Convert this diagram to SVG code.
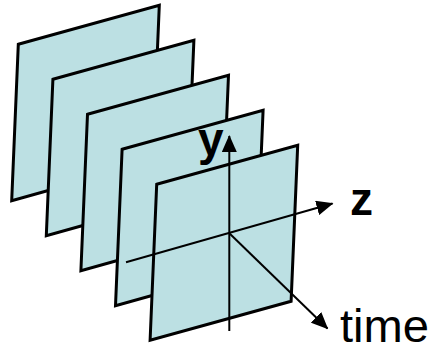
<svg xmlns="http://www.w3.org/2000/svg" width="432" height="351" viewBox="0 0 432 351">
<style>
.plane{fill:#BCE0E3;stroke:#000;stroke-width:3;stroke-linejoin:miter}
.axis{fill:none;stroke:#000;stroke-width:2}
.lbl{font-family:"Liberation Sans",Arial,sans-serif;font-size:46px;fill:#000}
.b{font-weight:bold}
</style>
<defs>
<marker id="ah" markerUnits="userSpaceOnUse" markerWidth="17" markerHeight="15" refX="16" refY="7.5" orient="auto" viewBox="0 0 17 15">
<path d="M0,0 L17,7.5 L0,15 z" fill="#000"/>
</marker>
</defs>
<g id="plane1"><polygon class="plane" points="18.3,44.3 159.3,5.3 152.7,161.3 11.7,200.7"/></g>
<g id="plane2"><polygon class="plane" points="52.9,79.3 193.9,40.3 187.3,196.3 46.3,235.7"/></g>
<g id="plane3"><polygon class="plane" points="87.5,114.3 228.5,75.3 221.9,231.3 80.9,270.7"/></g>
<g id="plane4"><polygon class="plane" points="122.1,149.3 263.1,110.3 256.5,266.3 115.5,305.7"/></g>
<g id="plane5"><polygon class="plane" points="156.7,184.3 297.7,145.3 291.1,301.3 150.1,340.2"/></g>
<g id="connectors">
<line class="axis" x1="229.3" y1="331" x2="229.3" y2="136" marker-end="url(#ah)"/>
<line class="axis" x1="126" y1="262.3" x2="332.5" y2="203.5" marker-end="url(#ah)"/>
<line class="axis" x1="229.3" y1="233.3" x2="327.5" y2="328.5" marker-end="url(#ah)"/>
</g>
<g id="labels">
<text class="lbl b" x="198" y="155">y</text>
<text class="lbl b" x="350" y="215">z</text>
<text class="lbl" x="340" y="342" textLength="89" lengthAdjust="spacingAndGlyphs">time</text>
</g>
</svg>
